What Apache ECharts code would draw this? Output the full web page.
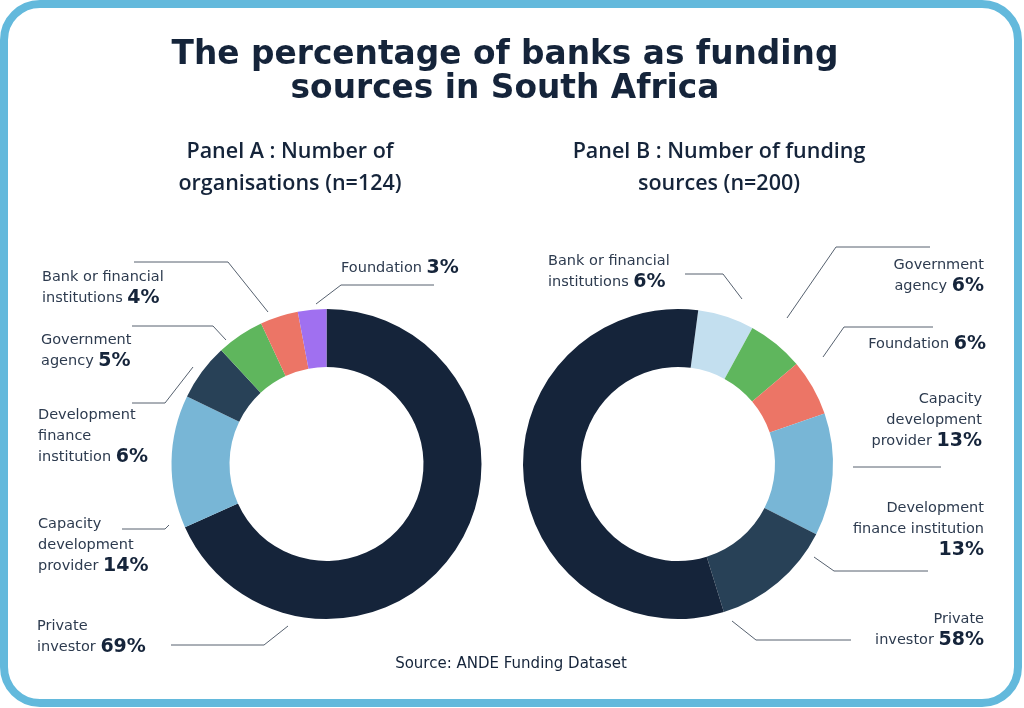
<!DOCTYPE html>
<html>
<head>
<meta charset="utf-8">
<script src="https://cdn.jsdelivr.net/npm/echarts@6/dist/echarts.min.js"></script>
<style>html,body{margin:0;padding:0;background:#fff}#c{width:1024px;height:708px}</style>
</head>
<body>
<div id="c"></div>
<script>
// ---- Data ----
const titleText = 'The percentage of banks as funding\nsources in South Africa';
const panelATitle = 'Panel A : Number of\norganisations (n=124)';
const panelBTitle = 'Panel B : Number of funding\nsources (n=200)';
const sourceText = 'Source: ANDE Funding Dataset';

const catsA = ['Private investor', 'Capacity development provider', 'Development finance institution', 'Government agency', 'Bank or financial institutions', 'Foundation'];
const valsA = [69, 14, 6, 5, 4, 3];
const wrapA = ['Private\ninvestor', 'Capacity\ndevelopment\nprovider', 'Development\nfinance\ninstitution', 'Government\nagency', 'Bank or financial\ninstitutions', 'Foundation'];

const catsB = ['Bank or financial institutions', 'Government agency', 'Foundation', 'Capacity development provider', 'Development finance institution', 'Private investor'];
const valsB = [6, 6, 6, 13, 13, 58];
const wrapB = ['Bank or financial\ninstitutions', 'Government\nagency', 'Foundation', 'Capacity\ndevelopment\nprovider', 'Development\nfinance institution\n', 'Private\ninvestor'];

// ---- Styles / layout ----
const colorsA = ['#15243a', '#78b6d6', '#284157', '#5fb65d', '#ec7566', '#a070f0'];
const colorsB = ['#c3dfef', '#5fb65d', '#ec7566', '#78b6d6', '#284157', '#15243a'];

// label anchor and leader line points for each slice
const layoutA = [
  {x: 37, y: 637, align: 'left', line: [[288, 626], [264, 645], [171, 645]]},
  {x: 38, y: 545, align: 'left', line: [[169, 525], [165, 529], [122, 529]]},
  {x: 38, y: 436, align: 'left', line: [[193, 367], [165, 403], [132, 403]]},
  {x: 41, y: 351, align: 'left', line: [[226, 340], [213, 326], [132, 326]]},
  {x: 42, y: 287.5, align: 'left', line: [[268, 312], [228, 262], [134, 262]]},
  {x: 341, y: 268, align: 'left', line: [[316, 304], [341, 285], [434, 285]]}
];
const layoutB = [
  {x: 548, y: 271.5, align: 'left', line: [[742, 299], [723, 274], [685, 274]]},
  {x: 984, y: 275.5, align: 'right', line: [[787, 318], [836, 247], [930, 247]]},
  {x: 986, y: 344, align: 'right', line: [[823, 357], [844, 327], [933, 327]]},
  {x: 982, y: 420, align: 'right', line: [[853, 467], [853, 467], [941, 467]]},
  {x: 984, y: 529, align: 'right', line: [[814, 557], [834, 571], [928, 571]]},
  {x: 984, y: 630, align: 'right', line: [[732, 621], [756, 640], [851, 640]]}
];

const FONT = '"Open Sans", "DejaVu Sans", sans-serif';
const DFONT = '"DejaVu Sans", sans-serif';
const textColor = '#2d3b4f';
const darkColor = '#15243a';
const lineColor = '#56616f';

function makeFormatter(wraps, layouts) {
  return function (p) {
    const side = layouts[p.dataIndex].align === 'right' ? 'R' : 'L';
    const lines = wraps[p.dataIndex].split('\n');
    const last = lines.length - 1;
    return lines.map(function (l, i) {
      if (i < last) return '{n' + side + '|' + l + '}';
      return l ? '{n' + side + '|' + l + ' }{p' + side + '|' + p.value + '%}' : '{p' + side + '|' + p.value + '%}';
    }).join('\n');
  };
}
const rich = {
  nL: {fontFamily: DFONT, fontSize: 14.5, color: textColor, lineHeight: 21, align: 'left'},
  pL: {fontFamily: DFONT, fontSize: 19, fontWeight: 'bold', color: darkColor, lineHeight: 21, align: 'left'},
  nR: {fontFamily: DFONT, fontSize: 14.5, color: textColor, lineHeight: 21, align: 'right'},
  pR: {fontFamily: DFONT, fontSize: 19, fontWeight: 'bold', color: darkColor, lineHeight: 21, align: 'right'}
};
function makeLayout(layouts) {
  return function (params) {
    const L = layouts[params.dataIndex];
    return {
      x: L.x, y: L.y, align: L.align, verticalAlign: 'middle',
      labelLinePoints: L.line
    };
  };
}
function pieSeries(cats, vals, colors, wraps, layouts, center, startAngle) {
  return {
    type: 'pie',
    center: center,
    radius: [97, 155],
    startAngle: startAngle,
    clockwise: true,
    avoidLabelOverlap: false,
    silent: true,
    emphasis: {disabled: true},
    itemStyle: {borderWidth: 0},
    data: cats.map(function (c, i) { return {name: c, value: vals[i], itemStyle: {color: colors[i]}}; }),
    label: {show: true, position: 'outside', formatter: makeFormatter(wraps, layouts), rich: rich},
    labelLine: {show: true, lineStyle: {color: lineColor, width: 1}},
    labelLayout: makeLayout(layouts)
  };
}

const chart = echarts.init(document.getElementById('c'), null, {renderer: 'canvas'});
chart.setOption({
  animation: false,
  backgroundColor: '#ffffff',
  graphic: [{
    type: 'rect', z: -1,
    shape: {x: 4, y: 4, width: 1014, height: 699, r: 36},
    style: {fill: '#ffffff', stroke: '#63b9dc', lineWidth: 8}
  }],
  title: [
    {text: titleText, left: 500, top: 33, textAlign: 'center',
     textStyle: {fontFamily: DFONT, fontSize: 32.8, fontWeight: 'bold', color: darkColor, lineHeight: 34}},
    {text: panelATitle, left: 285, top: 131, textAlign: 'center',
     textStyle: {fontFamily: FONT, fontSize: 21.5, fontWeight: 600, color: darkColor, lineHeight: 32}},
    {text: panelBTitle, left: 714, top: 131, textAlign: 'center',
     textStyle: {fontFamily: FONT, fontSize: 21.5, fontWeight: 600, color: darkColor, lineHeight: 32}},
    {text: sourceText, left: 506, top: 652, textAlign: 'center',
     textStyle: {fontFamily: DFONT, fontSize: 15, fontWeight: 'normal', color: darkColor}}
  ],
  series: [
    pieSeries(catsA, valsA, colorsA, wrapA, layoutA, [326.5, 464], 90),
    pieSeries(catsB, valsB, colorsB, wrapB, layoutB, [678, 464], 82.5)
  ]
});
</script>
</body>
</html>
